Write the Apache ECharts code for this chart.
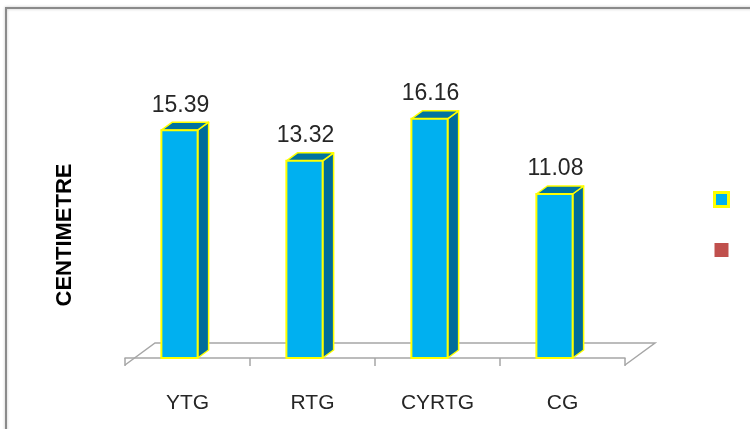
<!DOCTYPE html>
<html>
<head>
  <meta charset="utf-8" />
  <title>Centimetre</title>
  <script src="https://cdn.jsdelivr.net/npm/echarts@6/dist/echarts.min.js"></script>
</head>
<body style="margin:0;background:#fff">
  <div id="main" style="width:750px;height:429px"></div>
  <script>
    let categories = ["YTG", "RTG", "CYRTG", "CG"];
    let values = [15.39, 13.32, 16.16, 11.08];
    let seriesNames = ["Series1", "Series2"];

    // pseudo-3d offsets
    const DX = 11, DY = -8;

    function renderBar(params, api) {
      let c = api.coord([api.value(0), api.value(1)]);
      let base = api.coord([api.value(0), 0]);
      let w = api.size([1, 0])[0] * 0.29;
      let cx = c[0] - 8;
      let x0 = cx - w / 2, x1 = cx + w / 2;
      let yt = c[1], yb = base[1];
      let edge = { stroke: "#FFFF00", lineWidth: 1.5, lineJoin: "round" };
      return {
        type: "group",
        children: [
          {
            type: "polygon",
            shape: { points: [[x1, yt], [x1 + DX, yt + DY], [x1 + DX, yb + DY], [x1, yb]] },
            style: Object.assign({ fill: "#006C9A" }, edge)
          },
          {
            type: "polygon",
            shape: { points: [[x0, yt], [x1, yt], [x1 + DX, yt + DY], [x0 + DX, yt + DY]] },
            style: Object.assign({ fill: "#00739F" }, edge)
          },
          {
            type: "rect",
            shape: { x: x0, y: yt, width: w, height: yb - yt },
            style: { fill: "#00B0F0", stroke: "#FFFF00", lineWidth: 2 }
          },
          {
            type: "text",
            style: {
              text: values[params.dataIndex].toFixed(2),
              x: cx + 1,
              y: yt - 25,
              align: "center",
              verticalAlign: "middle",
              font: "23px 'Liberation Sans'",
              fill: "#262626"
            }
          }
        ]
      };
    }

    function renderFloor(params, api) {
      let cs = params.coordSys;
      let xl = cs.x, xr = cs.x + cs.width, y0 = cs.y + cs.height;
      return {
        type: "polyline",
        shape: { points: [[xl, y0 + 7], [xl + 30, y0 - 15], [xr + 30, y0 - 15], [xr, y0 + 7]] },
        style: { fill: null, stroke: "#A6A6A6", lineWidth: 1.5 }
      };
    }

    option = {
      animation: false,
      graphic: [
        {
          type: "rect",
          shape: { x: 6, y: 8, width: 780, height: 460 },
          style: { fill: "none", stroke: "#8A8A8A", lineWidth: 2, shadowBlur: 3, shadowColor: "rgba(0,0,0,0.25)" }
        }
      ],
      grid: { left: 125, right: 125, top: 112, bottom: 71 },
      legend: {
        orient: "vertical",
        left: 708,
        top: 186,
        itemWidth: 14,
        itemHeight: 14,
        itemGap: 35,
        icon: "rect",
        formatter: () => "",
        data: [
          { name: seriesNames[0], itemStyle: { color: "#00B0F0", borderColor: "#FFFF00", borderWidth: 3, borderType: "solid" } },
          { name: seriesNames[1], itemStyle: { color: "#C0504D", borderWidth: 0 } }
        ]
      },
      xAxis: {
        type: "category",
        data: categories,
        offset: 7,
        axisLine: { lineStyle: { color: "#A6A6A6", width: 1.5 } },
        axisTick: { show: true, length: 8, lineStyle: { color: "#A6A6A6", width: 1.5 } },
        axisLabel: { margin: 28, fontSize: 21, color: "#262626", fontFamily: "Liberation Sans" }
      },
      yAxis: {
        type: "value",
        min: 0,
        max: 16.62,
        name: "CENTIMETRE",
        nameLocation: "middle",
        nameRotate: 90,
        nameGap: 49,
        nameTextStyle: { fontSize: 22, fontWeight: "bold", color: "#000", fontFamily: "Liberation Sans" },
        axisLine: { show: false },
        axisTick: { show: false },
        axisLabel: { show: false },
        splitLine: { show: false }
      },
      series: [
        {
          name: "floor",
          type: "custom",
          renderItem: renderFloor,
          data: [[0, 0]],
          z: 1,
          silent: true
        },
        {
          name: seriesNames[0],
          type: "custom",
          renderItem: renderBar,
          itemStyle: { color: "#00B0F0", borderColor: "#FFFF00", borderWidth: 2 },
          data: categories.map((c, i) => [i, values[i]]),
          z: 2
        },
        {
          name: seriesNames[1],
          type: "bar",
          itemStyle: { color: "#C0504D" },
          data: []
        }
      ]
    };

    let chart = echarts.init(document.getElementById("main"));
    chart.setOption(option);
  </script>
</body>
</html>
